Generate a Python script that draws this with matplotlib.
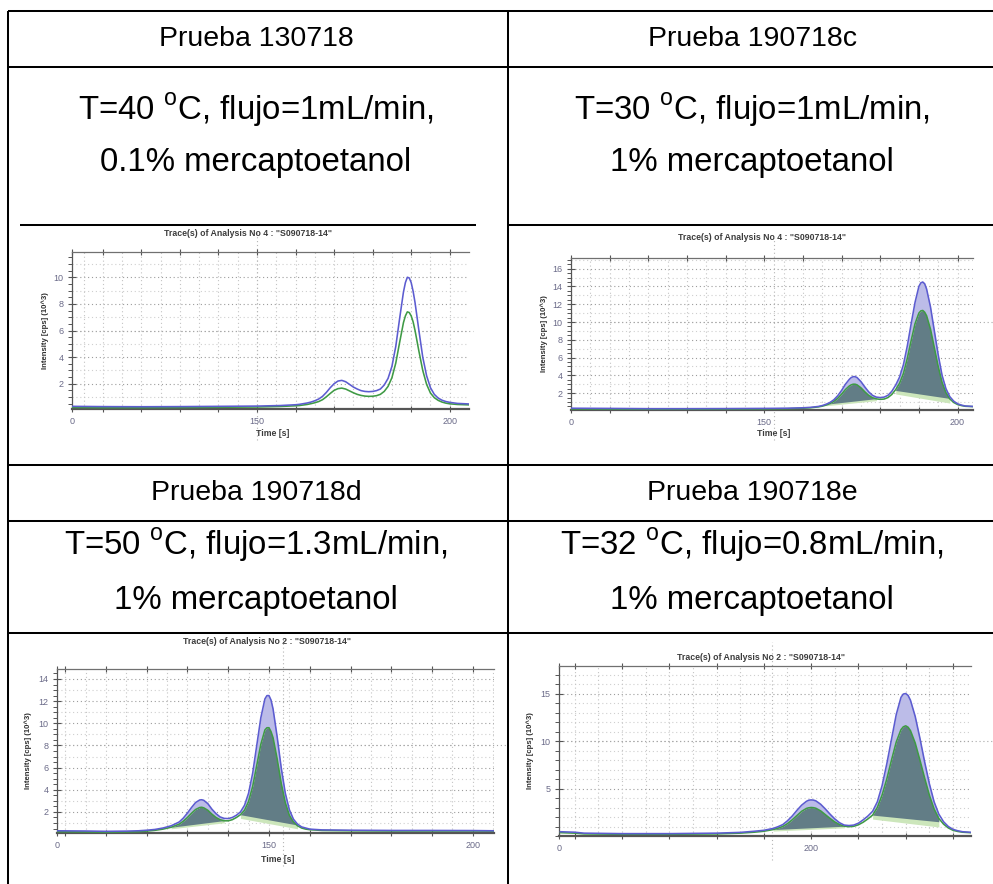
import numpy as np
import matplotlib
matplotlib.use("Agg")
import matplotlib.pyplot as plt
import matplotlib.transforms as mtransforms
from matplotlib.ticker import MultipleLocator, FixedLocator, FixedFormatter

plt.rcParams['font.family'] = ['Liberation Sans', 'DejaVu Sans']
plt.rcParams['mathtext.fontset'] = 'custom'
plt.rcParams['mathtext.rm'] = 'Liberation Sans'

W, H = 993, 884

# ---------------- table text ----------------
headers = ["Prueba 130718", "Prueba 190718c", "Prueba 190718d", "Prueba 190718e"]
conditions = [
    ("T=40 $^\\mathrm{o}$C, flujo=1mL/min,", "0.1% mercaptoetanol"),
    ("T=30 $^\\mathrm{o}$C, flujo=1mL/min,", "1% mercaptoetanol"),
    ("T=50 $^\\mathrm{o}$C, flujo=1.3mL/min,", "1% mercaptoetanol"),
    ("T=32 $^\\mathrm{o}$C, flujo=0.8mL/min,", "1% mercaptoetanol"),
]
chart_titles = [
    'Trace(s) of Analysis No 4 : "S090718-14"',
    'Trace(s) of Analysis No 4 : "S090718-14"',
    'Trace(s) of Analysis No 2 : "S090718-14"',
    'Trace(s) of Analysis No 2 : "S090718-14"',
]
y_label = "Intensity [cps] (10^3)"
x_label = "Time [s]"

# ---------------- chromatogram data (time in s, intensity in 10^3 cps) ----------------
p1_time = [102, 110, 120, 130, 140, 150, 156, 160,
           161, 162, 163, 164, 165, 166, 167, 168, 169, 170,
           171, 172, 173, 174, 175, 176, 177, 178, 179, 180,
           181, 182, 183, 184, 185, 186, 187, 188, 188.5, 189, 189.5, 190, 190.5,
           191, 192, 193, 194, 195, 196, 197, 198, 199, 200,
           202, 205]
p1_blue = [0.30, 0.28, 0.27, 0.28, 0.30, 0.32, 0.36, 0.42,
           0.45, 0.50, 0.55, 0.62, 0.72, 0.85, 1.05, 1.35, 1.70, 2.00,
           2.20, 2.25, 2.15, 1.95, 1.75, 1.60, 1.48, 1.42, 1.40, 1.42,
           1.48, 1.60, 1.90, 2.40, 3.30, 4.80, 6.90, 8.90, 9.60, 10.0, 9.95, 9.60, 8.95,
           8.10, 6.00, 4.00, 2.60, 1.70, 1.20, 0.92, 0.76, 0.66, 0.60,
           0.52, 0.48]
p1_green = [0.22, 0.20, 0.20, 0.21, 0.23, 0.25, 0.29, 0.34,
            0.36, 0.40, 0.44, 0.50, 0.57, 0.66, 0.80, 1.02, 1.27, 1.50,
            1.63, 1.67, 1.60, 1.46, 1.32, 1.20, 1.12, 1.07, 1.05, 1.06,
            1.10, 1.20, 1.42, 1.80, 2.45, 3.55, 5.10, 6.60, 7.10, 7.40, 7.35, 7.10, 6.65,
            6.00, 4.45, 3.00, 1.95, 1.30, 0.95, 0.75, 0.62, 0.54, 0.49,
            0.44, 0.41]

p2_time = [100, 110, 120, 130, 140, 150, 156, 160, 162,
           163, 164, 165, 166, 167, 168, 169, 170, 171, 172, 172.5,
           173, 173.5, 174, 175, 176, 177, 178, 179, 180, 181, 182,
           183, 184, 185, 186, 187, 188, 189, 190, 190.5, 191, 191.5, 192,
           193, 194, 195, 196, 197, 198, 199, 200, 201, 202,
           204]
p2_blue = [0.30, 0.28, 0.25, 0.25, 0.26, 0.28, 0.30, 0.35, 0.40,
           0.45, 0.50, 0.60, 0.75, 0.95, 1.25, 1.70, 2.30, 3.00, 3.55, 3.75,
           3.85, 3.85, 3.75, 3.30, 2.70, 2.15, 1.75, 1.55, 1.50, 1.55, 1.75,
           2.20, 2.90, 3.80, 5.20, 7.30, 9.80, 12.2, 14.0, 14.4, 14.5, 14.3, 13.7,
           11.7, 9.00, 6.30, 4.00, 2.50, 1.60, 1.10, 0.80, 0.65, 0.55,
           0.50]
p2_green = [0.22, 0.20, 0.18, 0.18, 0.20, 0.22, 0.25, 0.30, 0.35,
            0.40, 0.45, 0.53, 0.65, 0.82, 1.07, 1.42, 1.88, 2.40, 2.80, 2.93,
            3.00, 3.00, 2.93, 2.60, 2.15, 1.75, 1.48, 1.35, 1.30, 1.33, 1.50,
            1.85, 2.40, 3.10, 4.20, 5.90, 7.90, 9.80, 11.0, 11.25, 11.3, 11.1, 10.7,
            9.20, 7.10, 5.00, 3.20, 2.05, 1.35, 0.95, 0.72, 0.60, 0.52,
            0.48]
p2_base_time = [(166, 179), (184, 198)]
p2_base_hi = [(0.75, 1.38), (2.30, 1.40)]
p2_base_lo = [(0.58, 1.15), (1.90, 0.88)]

p3_time = [98, 105, 110, 115, 118, 120, 122, 124, 126, 128,
           129, 130, 131, 132, 133, 133.5, 134, 135, 136, 137, 138,
           139, 140, 141, 142, 143, 144, 145, 146, 147, 148,
           149, 149.5, 150, 150.5, 151, 152, 153, 154, 155, 156, 157, 158,
           159, 160, 163, 170, 180, 190, 200, 205]
p3_blue = [0.30, 0.28, 0.25, 0.27, 0.30, 0.35, 0.42, 0.55, 0.75, 1.10,
           1.45, 1.90, 2.40, 2.85, 3.08, 3.10, 3.05, 2.75, 2.25, 1.85, 1.55,
           1.42, 1.40, 1.50, 1.70, 2.00, 2.60, 3.70, 5.50, 8.00, 10.5,
           12.2, 12.5, 12.5, 12.1, 11.3, 8.80, 6.00, 3.70, 2.20, 1.35, 0.90, 0.65,
           0.55, 0.45, 0.38, 0.35, 0.33, 0.33, 0.32, 0.30]
p3_green = [0.22, 0.20, 0.18, 0.20, 0.22, 0.27, 0.34, 0.45, 0.62, 0.90,
            1.17, 1.50, 1.88, 2.22, 2.40, 2.42, 2.37, 2.15, 1.80, 1.50, 1.30,
            1.20, 1.20, 1.30, 1.50, 1.75, 2.15, 2.95, 4.30, 6.20, 8.10,
            9.40, 9.60, 9.60, 9.25, 8.70, 6.80, 4.60, 2.85, 1.70, 1.10, 0.75, 0.55,
            0.45, 0.40, 0.33, 0.30, 0.28, 0.28, 0.28, 0.27]
p3_base_time = [(126, 139), (143, 157)]
p3_base_hi = [(0.62, 1.22), (1.75, 0.82)]
p3_base_lo = [(0.48, 1.02), (1.42, 0.48)]

p4_time = [147, 150, 152, 160, 170, 180, 185, 188, 190, 192,
           193, 194, 195, 196, 197, 198, 199, 199.5, 200, 200.5, 201, 202,
           203, 204, 205, 206, 207, 208, 209, 210, 211, 212,
           213, 214, 215, 216, 217, 218, 219, 219.5, 220, 220.5, 221, 222,
           223, 224, 225, 226, 227, 228, 229, 230, 231, 232,
           234]
p4_blue = [0.45, 0.40, 0.30, 0.25, 0.25, 0.30, 0.38, 0.50, 0.60, 0.80,
           0.98, 1.20, 1.60, 2.10, 2.70, 3.25, 3.65, 3.77, 3.80, 3.78, 3.70, 3.35,
           2.85, 2.30, 1.80, 1.40, 1.15, 1.10, 1.15, 1.35, 1.70, 2.10,
           2.60, 3.60, 5.30, 7.60, 10.2, 12.8, 14.6, 14.95, 15.0, 14.8, 14.3, 12.6,
           10.3, 7.80, 5.50, 3.60, 2.30, 1.50, 1.00, 0.70, 0.55, 0.45,
           0.38]
p4_green = [0.35, 0.30, 0.22, 0.18, 0.18, 0.22, 0.30, 0.40, 0.50, 0.68,
            0.82, 1.00, 1.30, 1.70, 2.15, 2.60, 2.90, 2.97, 3.00, 2.98, 2.92, 2.65,
            2.25, 1.85, 1.48, 1.20, 1.03, 0.98, 1.02, 1.18, 1.45, 1.80,
            2.20, 3.00, 4.30, 6.00, 8.00, 9.90, 11.2, 11.5, 11.6, 11.45, 11.1, 9.80,
            8.00, 6.10, 4.30, 2.85, 1.85, 1.25, 0.85, 0.60, 0.48, 0.40,
            0.34]
p4_base_time = [(192, 207), (213, 227)]
p4_base_hi = [(0.68, 1.03), (2.20, 1.50)]
p4_base_lo = [(0.52, 0.86), (1.78, 0.95)]

# cursor cross-hair of the acquisition software (time, intensity)
cursors = [(150.0, 6.0), (152.6, 10.0), (153.5, 8.0), (191.8, 10.0)]

# ---------------- styling ----------------
BLUE = "#5c5cd0"
GREEN = "#3f9a45"
LAVENDER = "#bcbce8"
DARK = "#627d86"
LIGHTGREEN = "#cce6bb"
TICKCOL = "#6a6a88"
SPINE = "#555555"
LINE_W = 1.45

fig = plt.figure(figsize=(W / 100, H / 100), dpi=100)
fig.patch.set_facecolor("white")

bg = fig.add_axes([0, 0, 1, 1])
bg.set_xlim(0, W)
bg.set_ylim(H, 0)
bg.axis("off")

# table grid
x_left, x_mid, x_right = 8, 508, W + 2
for y in (11, 67, 465, 521, 633):
    bg.plot([x_left, x_right], [y, y], color="black", lw=LINE_W, solid_capstyle="butt")
bg.plot([20, 476], [225, 225], color="black", lw=LINE_W, solid_capstyle="butt")
bg.plot([x_mid, x_right], [225, 225], color="black", lw=LINE_W, solid_capstyle="butt")
for x in (x_left, x_mid):
    bg.plot([x, x], [11, H + 2], color="black", lw=LINE_W, solid_capstyle="butt")

cx = [256, 752]
head_y = [39, 39, 493, 493]
cond_y = [(110, 163), (110, 163), (545, 600), (545, 600)]
for i in range(4):
    xc = cx[i % 2]
    bg.text(xc, head_y[i], headers[i], ha="center", va="center", fontsize=20.5, color="black")
    bg.text(xc, cond_y[i][0], conditions[i][0], ha="center", va="center", fontsize=23.8, color="black")
    bg.text(xc, cond_y[i][1], conditions[i][1], ha="center", va="center", fontsize=23.8, color="black")


def px_rect(l, t, r, b):
    return [l / W, 1 - b / H, (r - l) / W, (b - t) / H]


panels = [
    dict(rect=(72, 252, 469, 409), xlim=(102, 205), ylim=(0.1, 11.9),
         t=p1_time, blue=p1_blue, green=p1_green, bases=None,
         yticks=[2, 4, 6, 8, 10], yminor=0.5, xlabels=["0", "150", "200"], xl_pos=[150, 200],
         title_xy=(248, 234), ylab_x=45, xlab_y=433, cur_ext=(-0.2, 1.14), h_ext=1.01),
    dict(rect=(571, 258, 973, 410), xlim=(100, 204), ylim=(0.1, 17.2),
         t=p2_time, blue=p2_blue, green=p2_green,
         bases=(p2_base_time, p2_base_hi, p2_base_lo),
         yticks=[2, 4, 6, 8, 10, 12, 14, 16], yminor=0.5, xlabels=["0", "150", "200"], xl_pos=[150, 200],
         title_xy=(762, 238), ylab_x=544, xlab_y=434, cur_ext=(-0.2, 1.16), h_ext=1.06),
    dict(rect=(57, 669, 494, 833), xlim=(98, 205.2), ylim=(0.1, 14.9),
         t=p3_time, blue=p3_blue, green=p3_green,
         bases=(p3_base_time, p3_base_hi, p3_base_lo),
         yticks=[2, 4, 6, 8, 10, 12, 14], yminor=0.5, xlabels=["0", "150", "200"], xl_pos=[150, 200],
         title_xy=(267, 642), ylab_x=28, xlab_y=859, cur_ext=(-0.2, 1.19), h_ext=1.03),
    dict(rect=(559, 666, 971, 836), xlim=(146.7, 233.8), ylim=(0.0, 17.9),
         t=p4_time, blue=p4_blue, green=p4_green,
         bases=(p4_base_time, p4_base_hi, p4_base_lo),
         yticks=[5, 10, 15], yminor=1.0, xlabels=["0", "200"], xl_pos=[200],
         title_xy=(761, 657), ylab_x=530, xlab_y=None, cur_ext=(-0.14, 1.14), h_ext=1.06),
]

dot = (0, (1, 2.5))
for i, p in enumerate(panels):
    l, t_, r, b = p["rect"]
    ax = fig.add_axes(px_rect(*p["rect"]))
    ax.set_facecolor("white")
    x0, x1 = p["xlim"]
    y0, y1 = p["ylim"]
    ax.set_xlim(x0, x1)
    ax.set_ylim(y0, y1)

    # dotted background grid
    for gy in np.arange(1, y1, 1):
        major = gy in p["yticks"]
        ax.axhline(gy, color="#9c9c9c" if major else "#cfcfcf", lw=0.8, ls=dot, zorder=0)
    for gx in np.arange(np.ceil(x0 / 5) * 5, x1, 5):
        ax.axvline(gx, color="#c4c4c4", lw=0.8, ls=dot, zorder=0)

    t = np.asarray(p["t"], float)
    bl = np.asarray(p["blue"], float)
    gr = np.asarray(p["green"], float)

    if p["bases"] is not None:
        for (ta, tb), (ha, hb), (la, lb) in zip(*p["bases"]):
            m = (t >= ta) & (t <= tb)
            tt = t[m]
            hi = np.interp(tt, [ta, tb], [ha, hb])
            lo = np.interp(tt, [ta, tb], [la, lb])
            ax.fill_between(tt, lo, gr[m], where=gr[m] > lo, interpolate=True,
                            color=LIGHTGREEN, lw=0, zorder=1)
            ax.fill_between(tt, hi, gr[m], where=gr[m] > hi, interpolate=True,
                            color=DARK, lw=0, zorder=2)
            ax.fill_between(tt, gr[m], bl[m], color=LAVENDER, lw=0, zorder=2)

    ax.plot(t, gr, color=GREEN, lw=1.15, zorder=3, solid_joinstyle="round")
    ax.plot(t, bl, color=BLUE, lw=1.15, zorder=4, solid_joinstyle="round")

    # cursor cross-hair
    cxv, cyv = cursors[i]
    tr_v = mtransforms.blended_transform_factory(ax.transData, ax.transAxes)
    ax.plot([cxv, cxv], list(p["cur_ext"]), transform=tr_v, clip_on=False,
            color="#b5b5b5", lw=0.8, ls=dot, zorder=0)
    tr_h = mtransforms.blended_transform_factory(ax.transAxes, ax.transData)
    ax.plot([0, p["h_ext"]], [cyv, cyv], transform=tr_h, clip_on=False,
            color="#a8a8a8", lw=0.8, ls=dot, zorder=0)

    # spines
    ax.spines["right"].set_visible(False)
    ax.spines["top"].set_color("#707070")
    ax.spines["top"].set_linewidth(0.9)
    ax.spines["left"].set_color(SPINE)
    ax.spines["left"].set_linewidth(0.9)
    ax.spines["bottom"].set_color(SPINE)
    ax.spines["bottom"].set_linewidth(1.6)

    # x ticks: labels at left edge and at 150 / 200, marks every 10 s
    ax.xaxis.set_major_locator(FixedLocator([x0] + p["xl_pos"]))
    ax.xaxis.set_major_formatter(FixedFormatter(p["xlabels"]))
    ax.xaxis.set_minor_locator(MultipleLocator(10))
    ax.tick_params(axis="x", which="both", top=True, direction="inout", length=5,
                   width=0.8, color="#555555", labelsize=6.5, labelcolor=TICKCOL, pad=3)

    ax.yaxis.set_major_locator(FixedLocator(p["yticks"]))
    ax.yaxis.set_minor_locator(MultipleLocator(p["yminor"]))
    ax.tick_params(axis="y", which="major", direction="inout", length=6, width=0.8,
                   color="#555555", labelsize=6.5, labelcolor=TICKCOL, pad=3)
    ax.tick_params(axis="y", which="minor", direction="out", length=3, width=0.7,
                   color="#555555")

    # titles and axis labels
    tx, ty = p["title_xy"]
    bg.text(tx, ty, chart_titles[i], ha="center", va="center", fontsize=6.3,
            fontweight="bold", color="#3c3c3c")
    bg.text(p["ylab_x"], (t_ + b) / 2, y_label, rotation=90, ha="center", va="center",
            fontsize=5.6, fontweight="bold", color="#2f2f2f")
    if p["xlab_y"] is not None:
        bg.text((l + r) / 2 + 2, p["xlab_y"], x_label, ha="center", va="center",
                fontsize=6.3, fontweight="bold", color="#3c3c3c")

fig.savefig("out.png", dpi=100, facecolor="white")
